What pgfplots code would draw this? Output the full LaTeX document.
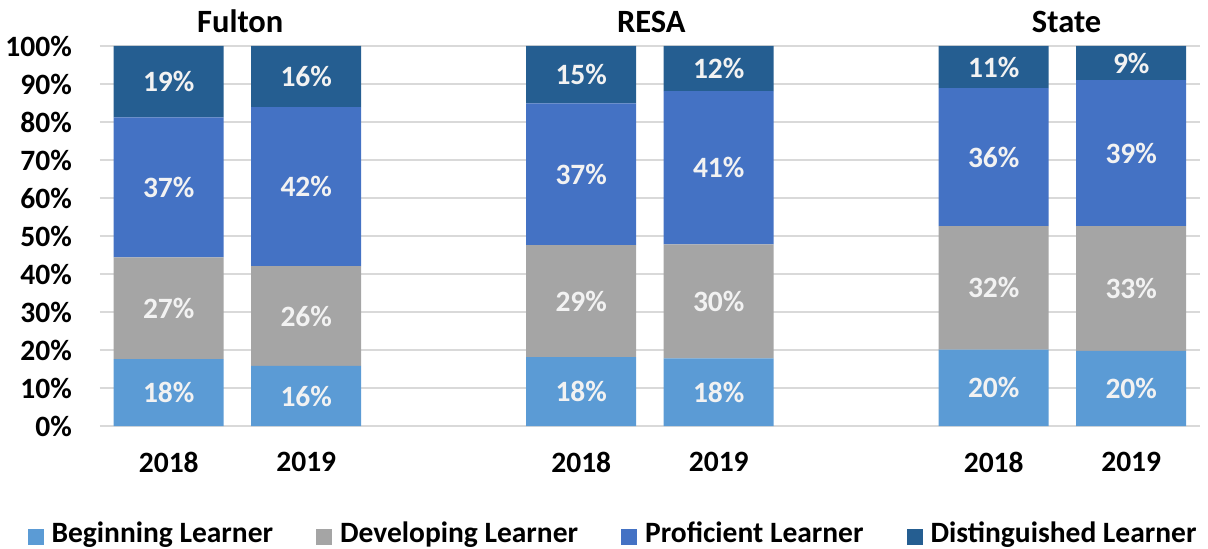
\documentclass[border=0pt]{standalone}
\usepackage{pgfplots}
\pgfplotsset{compat=1.18}
\usepackage{pgfplotstable}
\usepackage{fontspec}
\setmainfont{Carlito}

\definecolor{beg}{HTML}{5B9BD5}
\definecolor{dev}{HTML}{A5A5A5}
\definecolor{prof}{HTML}{4472C4}
\definecolor{dist}{HTML}{255E91}
\definecolor{gridc}{HTML}{D9D9D9}
\definecolor{lab}{HTML}{F2F2F2}

% segment heights (%) and the rounded labels shown on the bars
\pgfplotstableread{
x  b    bl d    dl p    pl s    sl
0  17.6 18 26.8 27 36.8 37 18.8 19
1  15.8 16 26.3 26 41.8 42 16.1 16
3  18.1 18 29.5 29 37.3 37 15.1 15
4  17.8 18 30.0 30 40.3 41 11.9 12
6  20.1 20 32.5 32 36.3 36 11.1 11
7  19.8 20 32.8 33 38.4 39 9.0  9
}\scores

\newcommand\lbl{\fontsize{29.5}{35}\selectfont\bfseries}

\begin{document}
\begin{tikzpicture}[font=\lbl]
\begin{axis}[
  scale only axis, width=1100pt, height=380pt,
  xmin=-0.5, xmax=7.5, ymin=0, ymax=100,
  clip=false,
  ybar stacked, bar width=110pt,
  axis line style={draw=none},
  major tick length=0pt,
  ymajorgrids, grid style={gridc, line width=1.3pt},
  ytick={0,10,20,30,40,50,60,70,80,90,100},
  yticklabels={0\%,10\%,20\%,30\%,40\%,50\%,60\%,70\%,80\%,90\%,100\%},
  xtick={0,1,3,4,6,7},
  xticklabels={2018,2019,2018,2019,2018,2019},
  tick label style={font=\lbl},
  yticklabel style={inner sep=0pt, xshift=-28pt},
  xticklabel style={inner sep=0pt, yshift=-26pt},
  point meta=explicit symbolic,
  nodes near coords={\pgfplotspointmeta\%},
  every node near coord/.append style={lab, font=\lbl, anchor=center},
  legend columns=4,
  legend style={at={(0.4655,-0.283)}, anchor=center, draw=none, fill=none,
    font=\lbl, inner sep=0pt, nodes={inner sep=0pt},
    /tikz/every odd column/.append style={column sep=8pt},
    /tikz/every even column/.append style={column sep=43pt}},
  legend image code/.code={\fill[#1] (0pt,-12pt) rectangle (16pt,4pt);},
]
\addplot[fill=beg, draw=none, forget plot] table[x=x, y=b, meta=bl]{\scores};
\addplot[fill=dev, draw=none, forget plot] table[x=x, y=d, meta=dl]{\scores};
\addplot[fill=prof, draw=none, forget plot] table[x=x, y=p, meta=pl]{\scores};
\addplot[fill=dist, draw=none, forget plot] table[x=x, y=s, meta=sl]{\scores};
\addlegendimage{fill=beg, draw=none}
\addlegendimage{fill=dev, draw=none}
\addlegendimage{fill=prof, draw=none}
\addlegendimage{fill=dist, draw=none}
\legend{Beginning Learner, Developing Learner, Proficient Learner, Distinguished Learner}

\node[anchor=base, yshift=13pt, font=\fontsize{32.5}{38}\selectfont\bfseries] at (axis cs:0.52,100) {Fulton};
\node[anchor=base, yshift=13pt, font=\fontsize{32.5}{38}\selectfont\bfseries] at (axis cs:3.51,100) {RESA};
\node[anchor=base, yshift=13pt, font=\fontsize{32.5}{38}\selectfont\bfseries] at (axis cs:6.53,100) {State};
\end{axis}
\pgfresetboundingbox
\path[use as bounding box] (-100pt,-123pt) rectangle (1108pt,426pt);
\end{tikzpicture}
\end{document}
